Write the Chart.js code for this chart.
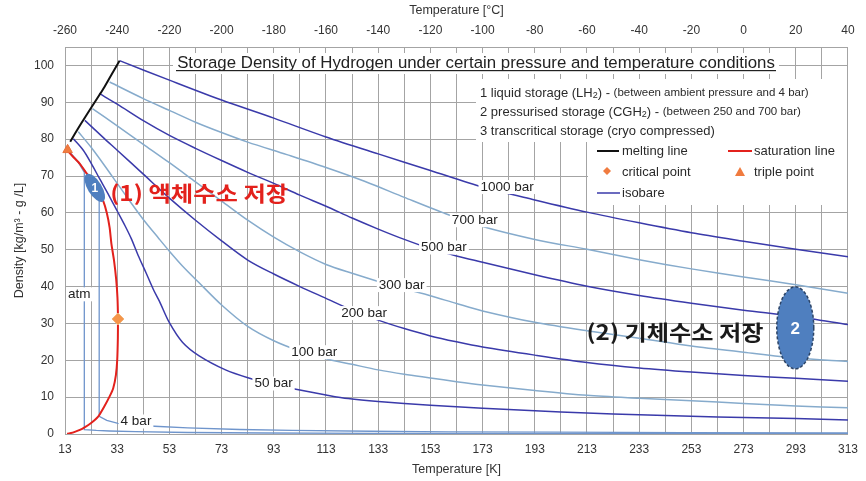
<!DOCTYPE html>
<html>
<head>
<meta charset="utf-8">
<script src="https://cdn.jsdelivr.net/npm/chart.js@4.4.0/dist/chart.umd.min.js"></script>
<style>
  html, body { margin: 0; padding: 0; background: #fff; }
</style>
</head>
<body>
<canvas id="myChart" width="866" height="481"></canvas>
<script>
// Tick labels
var kelvinTicks = [13, 33, 53, 73, 93, 113, 133, 153, 173, 193, 213, 233, 253, 273, 293, 313];
var celsiusTicks = [-260, -240, -220, -200, -180, -160, -140, -120, -100, -80, -60, -40, -20, 0, 20, 40];
var densityTicks = [0, 10, 20, 30, 40, 50, 60, 70, 80, 90, 100];

// Curves: [temperature K, density kg/m3]
var meltingLine = [[15.0, 79.3], [18.7, 83.7], [23.2, 88.7], [28.0, 94.0], [33.9, 101.3]];

var saturationLine = [[13.8, 77.0], [16.0, 75.3], [18.7, 73.3], [21.0, 71.0], [23.0, 69.0], [25.3, 66.5],
  [27.6, 63.3], [29.0, 60.0], [30.1, 56.0], [30.8, 51.5], [31.8, 47.0], [32.6, 42.0], [33.1, 37.0],
  [33.3, 31.2], [33.25, 26.0], [33.0, 20.0], [32.5, 16.0], [31.5, 12.5], [30.1, 10.2], [28.0, 7.4],
  [25.7, 4.7], [23.0, 3.0], [20.5, 1.8], [18.7, 1.1], [16.5, 0.5], [14.9, 0.2], [13.8, 0.05]];

var triplePoint = [[14.0, 77.1]];
var criticalPoint = [[33.3, 31.2]];

var isobar1000 = [[33.9, 101.3], [53, 96.0], [73, 90.6], [93, 85.7], [113, 80.6], [133, 76.0], [153, 71.5],
  [173, 67.0], [193, 63.5], [213, 60.2], [233, 57.3], [253, 54.6], [273, 52.3], [293, 50.1], [313, 48.1]];

var isobar700 = [[30.1, 95.5], [43, 91.0], [53, 87.8], [63, 84.6], [73, 81.8], [83, 79.2], [98, 75.8],
  [113, 72.3], [128, 68.5], [143, 64.2], [158, 60.0], [173, 56.3], [193, 52.8], [213, 50.1], [233, 47.3],
  [253, 44.8], [273, 42.6], [293, 40.5], [313, 38.2]];

var isobar500 = [[26.1, 92.4], [33, 89.5], [43, 85.0], [53, 81.0], [63, 77.5], [73, 74.2], [83, 71.0],
  [93, 68.0], [103, 64.8], [113, 61.8], [123, 58.6], [133, 55.6], [143, 52.8], [153, 50.3], [163, 48.3],
  [173, 46.6], [193, 43.2], [213, 40.1], [233, 37.6], [253, 35.5], [273, 33.6], [293, 31.9], [313, 29.7]];

var isobar300 = [[23.5, 88.3], [33, 83.6], [43, 78.6], [53, 73.6], [63, 68.4], [73, 63.2], [83, 58.0],
  [93, 53.4], [103, 49.4], [113, 46.0], [123, 43.6], [133, 41.4], [143, 39.4], [153, 37.5], [163, 35.4],
  [173, 33.4], [193, 30.3], [213, 28.0], [233, 26.0], [253, 23.9], [273, 22.2], [293, 20.6], [313, 19.7]];

var isobar200 = [[20.6, 85.1], [28, 80.2], [33, 77.0], [43, 70.5], [53, 64.0], [63, 58.0], [73, 52.4],
  [83, 47.2], [93, 43.4], [103, 40.0], [113, 36.8], [123, 33.6], [133, 30.9], [143, 28.6], [153, 26.6],
  [163, 25.0], [173, 23.6], [193, 21.4], [213, 19.4], [233, 17.9], [253, 16.8], [273, 15.9], [293, 15.1], [313, 14.3]];

var isobar100 = [[18.1, 82.0], [23, 77.8], [28, 73.0], [33, 68.0], [38, 63.0], [43, 58.2], [49, 53.0],
  [53, 49.6], [58, 45.6], [64, 41.3], [73, 35.0], [83, 29.2], [93, 25.3], [103, 22.5], [113, 20.4],
  [123, 18.9], [133, 17.4], [143, 16.2], [153, 15.2], [163, 14.2], [173, 13.3], [193, 11.8], [213, 10.5],
  [233, 9.7], [253, 9.0], [273, 8.3], [293, 7.6], [313, 7.1]];

var isobar50 = [[16.2, 80.1], [20, 77.0], [23, 73.5], [26.3, 69.2], [30, 64.5], [33, 60.5], [36, 56.5],
  [38.4, 53.0], [41, 48.5], [44, 43.8], [47, 39.0], [49.2, 36.0], [53, 30.2], [58, 24.9], [64.4, 21.2],
  [74.5, 17.4], [83.4, 15.2], [93, 13.4], [101, 12.2], [113, 10.6], [121.5, 9.6], [133, 8.8], [153, 7.8],
  [173, 7.0], [193, 6.3], [213, 5.7], [233, 5.2], [253, 4.8], [273, 4.5], [293, 4.2], [313, 3.8]];

var isobar4 = [[14.2, 77.0], [18.7, 73.3], [23, 69.0], [26.1, 65.2], [26.1, 4.8], [29, 3.7], [33.3, 2.9],
  [40, 2.4], [47.3, 2.1], [60, 1.65], [80, 1.22], [100, 0.97], [130, 0.75], [160, 0.6], [200, 0.49],
  [250, 0.39], [313, 0.31]];

var isobarAtm = [[14.2, 76.9], [18, 73.8], [20.4, 71.0], [20.4, 1.2], [25, 0.98], [30, 0.82], [40, 0.62],
  [60, 0.41], [90, 0.27], [130, 0.19], [200, 0.12], [313, 0.08]];

var DARK = "#3a3aaa";
var LIGHT = "#86abcc";
var LOWP = "#6f95cc";
var FONT = '"Liberation Sans", Arial, sans-serif';
var KFONT = '"Noto Sans CJK KR", sans-serif';
var GRID = "#a4a4a4";

function xy(arr) {
  return arr.map(function (p) { return { x: p[0], y: p[1] }; });
}

function line(label, pts, color, width, tension) {
  return {
    label: label, data: xy(pts), showLine: true, borderColor: color, backgroundColor: color,
    borderWidth: width, pointRadius: 0, tension: tension, fill: false
  };
}

// grid every 10 K between the labelled ticks
var gridK = [];
for (var i = 0; i < kelvinTicks.length; i++) {
  gridK.push(kelvinTicks[i]);
  if (i < kelvinTicks.length - 1) gridK.push(kelvinTicks[i] + 10);
}

// curve labels, ellipses and notes, placed in data units
var curveLabels = [
  { text: "1000 bar", x: 182.4, y: 67.0 },
  { text: "700 bar", x: 170, y: 58.0 },
  { text: "500 bar", x: 158.2, y: 50.6 },
  { text: "300 bar", x: 142, y: 40.4 },
  { text: "200 bar", x: 127.6, y: 32.8 },
  { text: "100 bar", x: 108.5, y: 22.2 },
  { text: "50 bar", x: 92.9, y: 13.7 },
  { text: "4 bar", x: 40.2, y: 3.4 },
  { text: "atm", x: 18.5, y: 37.9 }
];

function labelBox(ctx, text, x, y) {
  ctx.font = "13.5px " + FONT;
  var w = ctx.measureText(text).width;
  ctx.fillStyle = "#fff";
  ctx.fillRect(x - w / 2 - 2, y - 7, w + 4, 14);
  ctx.fillStyle = "#222";
  ctx.textAlign = "center";
  ctx.textBaseline = "middle";
  ctx.fillText(text, x, y);
}

function rich(ctx, x, y, parts) {
  ctx.textAlign = "left";
  ctx.textBaseline = "middle";
  ctx.fillStyle = "#2a2a2a";
  parts.forEach(function (p) {
    ctx.font = p[1] + "px " + FONT;
    ctx.fillText(p[0], x, y + (p[2] || 0));
    x += ctx.measureText(p[0]).width;
  });
}

// wide bold note, stretched to the width it has in the picture
function note(ctx, text, x, y, width, color) {
  ctx.save();
  ctx.font = "bold 21px " + KFONT;
  ctx.textAlign = "left";
  ctx.textBaseline = "middle";
  ctx.fillStyle = color;
  var k = width / ctx.measureText(text).width;
  ctx.translate(x, y);
  ctx.scale(k, 1);
  ctx.fillText(text, 0, 0);
  ctx.restore();
}

function blob(ctx, cx, cy, rx, ry, rot, txt, dashed, fsize) {
  ctx.save();
  ctx.beginPath();
  ctx.ellipse(cx, cy, rx, ry, rot, 0, Math.PI * 2);
  ctx.fillStyle = "#4f7fbf";
  ctx.fill();
  if (dashed) {
    ctx.setLineDash([3, 2]);
    ctx.strokeStyle = "#2c4466";
    ctx.lineWidth = 1.5;
    ctx.stroke();
  }
  ctx.setLineDash([]);
  ctx.fillStyle = "#fff";
  ctx.font = "bold " + fsize + "px " + FONT;
  ctx.textAlign = "center";
  ctx.textBaseline = "middle";
  ctx.fillText(txt, cx, cy + 1);
  ctx.restore();
}

var overlay = {
  id: "overlay",
  beforeDatasetsDraw: function (chart) {
    var ctx = chart.ctx, a = chart.chartArea;
    ctx.save();
    ctx.fillStyle = "#fff";
    ctx.fillRect(173, 53, 606, 21);
    ctx.fillRect(476, 79, a.right - 477, 63);
    ctx.fillRect(588, 141, a.right - 589, 64);
    ctx.restore();
  },
  afterDatasetsDraw: function (chart) {
    var ctx = chart.ctx;
    var sx = chart.scales.x, sy = chart.scales.y;
    ctx.save();

    curveLabels.forEach(function (l) {
      labelBox(ctx, l.text, sx.getPixelForValue(l.x), sy.getPixelForValue(l.y));
    });

    // storage regions
    blob(ctx, sx.getPixelForValue(24.4), sy.getPixelForValue(66.8), 7, 16, -0.55, "1", false, 12);
    blob(ctx, sx.getPixelForValue(292.8), sy.getPixelForValue(28.8), 18.5, 41, 0, "2", true, 17);

    note(ctx, "(1) 액체수소 저장", sx.getPixelForValue(30.3), sy.getPixelForValue(65.4), 178, "#e3211c");
    note(ctx, "(2) 기체수소 저장", sx.getPixelForValue(212.8), sy.getPixelForValue(27.6), 177, "#1a1a1a");

    // title, underlined
    var title = "Storage Density of Hydrogen under certain pressure and temperature conditions";
    ctx.font = "14px " + FONT;
    var fs = 14 * 598 / ctx.measureText(title).width;
    ctx.font = fs + "px " + FONT;
    ctx.fillStyle = "#222";
    ctx.textAlign = "center";
    ctx.textBaseline = "alphabetic";
    ctx.fillText(title, 476, 68);
    ctx.fillRect(176, 70, 600, 1.2);

    // storage notes
    rich(ctx, 480, 93, [["1 liquid storage (LH", 13], ["2", 9, 3], [") - ", 13], ["(between ambient pressure and 4 bar)", 11.5]]);
    rich(ctx, 480, 112, [["2 pressurised storage (CGH", 13], ["2", 9, 3], [") - ", 13], ["(between 250 and 700 bar)", 11.5]]);
    rich(ctx, 480, 131, [["3 transcritical storage (cryo compressed)", 13]]);

    // legend
    ctx.lineWidth = 2;
    ctx.strokeStyle = "#111";
    ctx.beginPath(); ctx.moveTo(597, 151); ctx.lineTo(619, 151); ctx.stroke();
    ctx.strokeStyle = "#e3211c";
    ctx.beginPath(); ctx.moveTo(728, 151); ctx.lineTo(752, 151); ctx.stroke();
    ctx.strokeStyle = DARK;
    ctx.lineWidth = 1.5;
    ctx.beginPath(); ctx.moveTo(597, 193); ctx.lineTo(620, 193); ctx.stroke();
    ctx.fillStyle = "#f07b3f";
    ctx.beginPath(); ctx.moveTo(607, 167); ctx.lineTo(611, 171); ctx.lineTo(607, 175); ctx.lineTo(603, 171); ctx.closePath(); ctx.fill();
    ctx.beginPath(); ctx.moveTo(740, 167); ctx.lineTo(745, 176); ctx.lineTo(735, 176); ctx.closePath(); ctx.fill();
    rich(ctx, 622, 151, [["melting line", 13]]);
    rich(ctx, 754, 151, [["saturation line", 13]]);
    rich(ctx, 622, 172, [["critical point", 13]]);
    rich(ctx, 754, 172, [["triple point", 13]]);
    rich(ctx, 622, 193, [["isobare", 13]]);
    ctx.restore();
  }
};

var datasets = [
  { label: "triple point", data: xy(triplePoint), pointStyle: "triangle", pointRadius: 5.5, clip: false,
    backgroundColor: "#f07b3f", borderColor: "#e8703a", borderWidth: 1 },
  { label: "critical point", data: xy(criticalPoint), pointStyle: "rectRot", pointRadius: 6, clip: false,
    backgroundColor: "#f5954a", borderColor: "#f2b277", borderWidth: 1 },
  line("melting line", meltingLine, "#111", 2, 0.1),
  line("saturation line", saturationLine, "#e3211c", 2, 0.15),
  line("1000 bar", isobar1000, DARK, 1.5, 0.3),
  line("700 bar", isobar700, LIGHT, 1.5, 0.3),
  line("500 bar", isobar500, DARK, 1.5, 0.3),
  line("300 bar", isobar300, LIGHT, 1.5, 0.3),
  line("200 bar", isobar200, DARK, 1.5, 0.3),
  line("100 bar", isobar100, LIGHT, 1.5, 0.3),
  line("50 bar", isobar50, DARK, 1.5, 0.3),
  line("4 bar", isobar4, LOWP, 1.3, 0),
  line("atm", isobarAtm, LOWP, 1.3, 0)
];

var tickFont = { family: FONT, size: 12 };

new Chart("myChart", {
  type: "scatter",
  data: { datasets: datasets },
  options: {
    responsive: false,
    animation: false,
    devicePixelRatio: 1,
    layout: { padding: { right: 13, left: 0, top: 0, bottom: 0 } },
    plugins: { legend: { display: false }, tooltip: { enabled: false } },
    scales: {
      x: {
        type: "linear", position: "bottom", min: 13, max: 313,
        afterBuildTicks: function (s) { s.ticks = gridK.map(function (v) { return { value: v }; }); },
        afterFit: function (s) { s.height = 47; },
        ticks: {
          autoSkip: false, maxRotation: 0, padding: 8, color: "#333", font: tickFont,
          callback: function (v) { return kelvinTicks.indexOf(v) >= 0 ? String(v) : ""; }
        },
        grid: { color: GRID, drawTicks: false },
        border: { color: GRID },
        title: { display: true, text: "Temperature [K]", color: "#333", font: { family: FONT, size: 12.5 }, padding: { top: 0, bottom: 4 } }
      },
      x2: {
        type: "linear", position: "top", min: -260, max: 40,
        afterBuildTicks: function (s) { s.ticks = celsiusTicks.map(function (v) { return { value: v }; }); },
        afterFit: function (s) { s.height = 47; },
        ticks: { autoSkip: false, maxRotation: 0, padding: 9, color: "#333", font: tickFont },
        grid: { display: false, drawTicks: false },
        border: { color: GRID },
        title: { display: true, text: "Temperature [°C]", color: "#333", font: { family: FONT, size: 12.5 }, padding: { top: 3, bottom: 0 } }
      },
      y: {
        type: "linear", min: 0, max: 105,
        afterBuildTicks: function (s) { s.ticks = densityTicks.map(function (v) { return { value: v }; }); },
        afterFit: function (s) { s.width = 65; },
        ticks: { padding: 11, color: "#333", font: tickFont },
        grid: { color: GRID, drawTicks: false },
        border: { color: GRID },
        title: { display: true, text: "Density [kg/m³ - g /L]", color: "#333", font: { family: FONT, size: 12.5 }, padding: { top: 12, bottom: 0 } }
      }
    }
  },
  plugins: [overlay]
});
</script>
</body>
</html>
